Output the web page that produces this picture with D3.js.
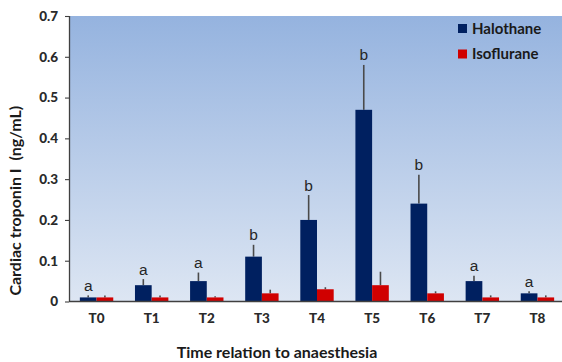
<!DOCTYPE html>
<html>
<head>
<meta charset="utf-8">
<script src="https://cdn.jsdelivr.net/npm/d3@7"></script>
<style>
  html, body { margin: 0; padding: 0; background: #ffffff; }
  svg { display: block; }
</style>
</head>
<body>
<svg id="chart" width="562" height="362"></svg>
<script>
// Sampling times
const categories = ["T0", "T1", "T2", "T3", "T4", "T5", "T6", "T7", "T8"];
const seriesNames = ["Halothane", "Isoflurane"];

// Mean cardiac troponin I (ng/mL)
const halothane = [0.01, 0.04, 0.05, 0.11, 0.20, 0.47, 0.24, 0.05, 0.02];
const isoflurane = [0.01, 0.01, 0.01, 0.02, 0.03, 0.04, 0.02, 0.01, 0.01];

// Upper error (SD) added on top of each mean
const halothaneErr = [0.005, 0.015, 0.021, 0.029, 0.061, 0.11, 0.071, 0.013, 0.005];
const isofluraneErr = [0.005, 0.005, 0.003, 0.009, 0.005, 0.033, 0.005, 0.005, 0.005];

// Significance letters for the halothane group
const sigLetters = ["a", "a", "a", "b", "b", "b", "b", "a", "a"];

const yTicks = [0, 0.1, 0.2, 0.3, 0.4, 0.5, 0.6, 0.7];
const yTickLabels = ["0", "0.1", "0.2", "0.3", "0.4", "0.5", "0.6", "0.7"];

const colors = { Halothane: "#002060", Isoflurane: "#d00000" };
const axisFont = "Lato, 'Open Sans', sans-serif";

const svg = d3.select("#chart");
const W = 562, H = 362;
const plot = { left: 69, right: 565, top: 16, bottom: 301.5 };

const y = d3.scaleLinear().domain([0, 0.7]).range([plot.bottom, plot.top]);
const x0 = d3.scaleBand().domain(categories)
  .range([plot.left, plot.right]).paddingInner(0.394).paddingOuter(0.197);
const x1 = d3.scaleBand().domain(seriesNames).range([0, x0.bandwidth()]).padding(0);

// Plot-area gradient background
const defs = svg.append("defs");
const grad = defs.append("linearGradient").attr("id", "bg")
  .attr("x1", 0).attr("y1", 0).attr("x2", 0).attr("y2", 1);
grad.append("stop").attr("offset", "0%").attr("stop-color", "#95b3df");
grad.append("stop").attr("offset", "100%").attr("stop-color", "#dde6f3");
svg.append("rect")
  .attr("x", plot.left).attr("y", plot.top)
  .attr("width", W - plot.left).attr("height", plot.bottom - plot.top)
  .attr("fill", "url(#bg)");

const data = categories.map((c, i) => ({
  cat: c,
  letter: sigLetters[i],
  vals: [
    { name: "Halothane", v: halothane[i], e: halothaneErr[i] },
    { name: "Isoflurane", v: isoflurane[i], e: isofluraneErr[i] }
  ]
}));

const groups = svg.append("g").selectAll("g").data(data).join("g")
  .attr("transform", d => `translate(${x0(d.cat)},0)`);

// Error bars (upper only), drawn behind the bars
groups.selectAll("line.err").data(d => d.vals).join("line")
  .attr("class", "err")
  .attr("x1", d => x1(d.name) + x1.bandwidth() / 2)
  .attr("x2", d => x1(d.name) + x1.bandwidth() / 2)
  .attr("y1", d => y(d.v))
  .attr("y2", d => y(d.v + d.e))
  .attr("stroke", "#4a4a4a").attr("stroke-width", 1.6);

groups.selectAll("rect.bar").data(d => d.vals).join("rect")
  .attr("class", "bar")
  .attr("x", d => x1(d.name))
  .attr("width", x1.bandwidth())
  .attr("y", d => y(d.v))
  .attr("height", d => y(0) - y(d.v))
  .attr("fill", d => colors[d.name]);

// Significance letters above the halothane error bars
groups.append("text")
  .attr("x", x1("Halothane") + x1.bandwidth() / 2)
  .attr("y", d => y(d.vals[0].v + d.vals[0].e) - 4.5)
  .attr("text-anchor", "middle")
  .attr("font-family", "'Liberation Sans', Arial, sans-serif")
  .attr("font-size", 15.5)
  .attr("fill", "#262626")
  .text(d => d.letter);

// Y axis
const yAxis = svg.append("g")
  .attr("transform", `translate(${plot.left},0)`)
  .call(d3.axisLeft(y).tickValues(yTicks)
    .tickFormat((d, i) => yTickLabels[i]).tickSizeOuter(0).tickSize(4).tickPadding(7));
yAxis.select(".domain").attr("stroke", "#404040").attr("stroke-width", 1.3)
  .attr("d", `M0.5,${plot.bottom}V${plot.top}`);
yAxis.selectAll(".tick line").attr("stroke", "#404040").attr("stroke-width", 1.1);
yAxis.selectAll(".tick text")
  .attr("font-family", axisFont).attr("font-weight", 900)
  .attr("font-size", 13.5).attr("fill", "#2a2a2a");

// X axis
const xAxis = svg.append("g")
  .attr("transform", `translate(0,${plot.bottom})`)
  .call(d3.axisBottom(x0).tickSize(0).tickPadding(12));
xAxis.select(".domain").attr("stroke", "#404040").attr("stroke-width", 1.3)
  .attr("d", `M${plot.left},0H${W}`);
xAxis.selectAll(".tick text")
  .attr("font-family", axisFont).attr("font-weight", 900)
  .attr("font-size", 13.5).attr("fill", "#2a2a2a");

// Axis titles
svg.append("text")
  .attr("transform", `translate(21,${(plot.top + plot.bottom) / 2 + 42}) rotate(-90)`)
  .attr("text-anchor", "middle")
  .attr("font-family", axisFont).attr("font-weight", "bold")
  .attr("font-size", 16).attr("fill", "#1a1a1a")
  .attr("xml:space", "preserve")
  .text("Cardiac troponin I  (ng/mL)");

svg.append("text")
  .attr("x", 277).attr("y", 358)
  .attr("text-anchor", "middle")
  .attr("font-family", axisFont).attr("font-weight", "bold")
  .attr("font-size", 16).attr("fill", "#1a1a1a")
  .text("Time relation to anaesthesia");

// Legend
const legend = svg.append("g").selectAll("g").data(seriesNames).join("g")
  .attr("transform", (d, i) => `translate(458,${24 + i * 25.5})`);
legend.append("rect").attr("width", 9).attr("height", 9)
  .attr("fill", d => colors[d]);
legend.append("text").attr("x", 14).attr("y", 9.5)
  .attr("font-family", axisFont).attr("font-weight", "bold")
  .attr("font-size", 15).attr("fill", "#1a1a1a")
  .text(d => d);
</script>
</body>
</html>
